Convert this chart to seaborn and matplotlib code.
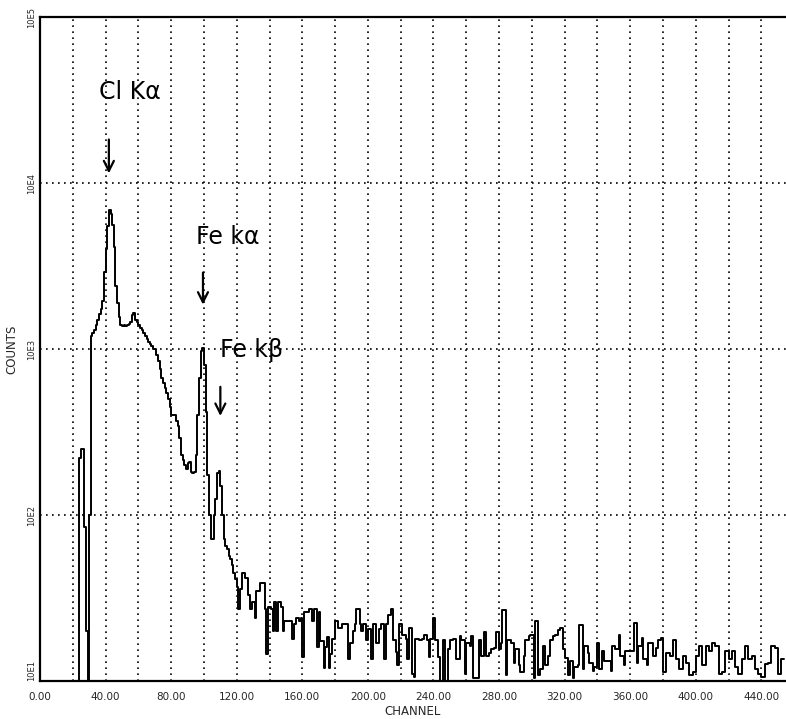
import numpy as np
import pandas as pd
import matplotlib
matplotlib.use("Agg")
import matplotlib.pyplot as plt
import seaborn as sns
from matplotlib.ticker import MultipleLocator, NullLocator, FixedLocator

# counts per channel (channels 0..454)
counts = (
    [10] * 24
    + [220, 250, 250, 85, 20, 10, 100]
    + [1200, 1250, 1300, 1400, 1500, 1620, 1750, 1950, 2900, 4000,
       5500, 6900, 6500, 5600, 4100, 2400, 1900, 1550, 1400, 1380,
       1400, 1380, 1400, 1420, 1450, 1600, 1650, 1500, 1450, 1400]
    + [1340, 1300, 1250, 1200, 1150, 1100, 1070, 1040, 1000, 1000,
       920, 850, 760, 665, 620, 580, 540, 500, 450, 400,
       400, 400, 370, 345, 290, 230, 215, 200, 190, 205,
       210, 182, 180, 182, 230, 400, 665, 970, 1010, 800,
       420, 174, 100, 72, 72, 100, 125, 180, 185, 150,
       100, 72, 65, 62, 57, 54, 50, 45, 41, 37,
       27]
    + [36, 45, 45, 42, 42, 33, 27, 30, 30, 24,
       35, 35, 39, 39, 39, 27, 14.5, 28, 28, 27,
       20, 30, 20, 30, 30, 28, 20, 23, 23, 23,
       23, 23, 18, 22, 24, 24, 23, 24, 14, 26,
       26, 26, 27, 27, 23, 27, 27, 16, 26, 17.5,
       17.5, 12, 16, 18.5, 12, 14.5, 18, 18, 23, 23,
       21, 21, 22, 22]
    + [22, 22, 13.5, 17, 17, 20, 22, 27, 27, 22,
       20, 22, 22, 17.7, 20.5, 20.5, 13.5, 22, 22, 17,
       17, 20.5, 22, 22, 13.5, 22, 25, 25, 27, 17.7,
       17.7, 15, 12.5, 22, 22, 19, 19, 18, 13.5, 21,
       21, 11, 10.5, 18, 18, 17.7, 17.7, 18, 19, 19,
       17.7, 14, 18, 18, 24, 17.7, 17.7, 14, 10, 10,
       17.7, 10, 10, 15.5, 17.7, 17.7, 18, 18]
    + [13.5, 13.5, 18.7, 17.7, 17.7, 11, 16.9, 16.9, 16.2, 18.7,
       10.4, 10.4, 10.4, 10.4, 17.7, 14.1, 14.1, 19.7, 14.1, 14.1,
       14.8, 15.5, 15.5, 15.8, 19.7, 19.7, 15.5, 16.9, 26.6, 26.6,
       10.8, 17.7, 17.7, 16.9, 16.9, 12.9, 15.5, 15.5, 12.4, 11.3,
       11.3, 14.1, 17.7, 17.7, 18.7, 19, 19, 10.4, 22.9, 22.9,
       10.8, 11.8, 11.8, 16.2, 12.4, 12.4, 14.1, 17.7, 17.7, 18.7]
    + [19, 19, 20.4, 20.8, 20.8, 15.5, 13.8, 13.8, 10.8, 13.2,
       13.2, 10.4, 12.1, 12.1, 12.4, 21.8, 21.8, 11.8, 16.2, 16.2,
       14.8, 12.9, 12.9, 11.5, 12.1, 12.1, 16.9, 11.8, 11.8, 15.2,
       13.2, 13.2, 13.2, 13.2, 11.5, 16.2, 16.2, 15.5, 15.5, 19,
       14.1, 14.1, 12.4, 15.2, 15.2, 15.2, 15.2, 15.2, 22.4, 22.4,
       12.9, 16.2, 16.2, 18.2, 13.5, 13.5, 12.4, 16.9, 16.9, 16.9,
       14.1, 14.1, 15.8, 17.7, 17.7, 18.2, 11.3, 11.3, 14.8, 14.8]
    + [14.1, 14.1, 17.7, 17.7, 13.5, 13.5, 11.8, 11.8, 14.1, 14.1,
       12.9, 12.9, 10.8, 10.8, 11.3, 11.3, 14.1, 14.1, 16.2, 16.2,
       12.4, 12.4, 16.2, 16.2, 15.1, 15.1, 16.9, 16.9, 16.2, 16.2,
       11, 11, 11.3, 11.3, 15.1, 15.1, 13.5, 13.5, 15.1, 15.1,
       12.1, 12.1, 11, 11, 13.5, 13.5, 16.2, 16.2, 13.5, 13.5,
       14.1, 14.1, 11.8, 11.8, 11, 11, 10.6, 10.6, 12.6, 12.6,
       12.9, 12.9, 16.2, 16.2, 15.8, 15.8, 11, 11, 13.5, 13.5,
       13.5]
)
channels = np.arange(len(counts))

x_ticks = [0, 40, 80, 120, 160, 200, 240, 280, 320, 360, 400, 440]
y_ticks = [10, 100, 1000, 10000, 100000]
y_labels = ["10E1", "10E2", "10E3", "10E4", "10E5"]

peak_labels = ["Cl Kα", "Fe kα", "Fe kβ"]
peak_text_xy = [(55, 35500), (114.6, 4700), (129, 980)]
peak_arrow_x = [42, 99.4, 110]
peak_arrow_y = [(19000, 11000), (3000, 1780), (615, 380)]

df = pd.DataFrame({"channel": channels, "counts": counts})

sns.set_style("white")
fig = plt.figure(figsize=(7.86, 7.19), dpi=100)
ax = fig.add_axes([40 / 786, 38 / 719, 746 / 786, 664 / 719])

sns.lineplot(data=df, x="channel", y="counts", estimator=None,
             drawstyle="steps-post", color="black", linewidth=1.4, ax=ax)

ax.set_yscale("log")
ax.set_xlim(0, 455)
ax.set_ylim(10, 1e5)

ax.xaxis.set_major_locator(FixedLocator(x_ticks))
ax.xaxis.set_minor_locator(MultipleLocator(20))
ax.set_xticklabels([f"{v:.2f}" for v in x_ticks], fontsize=7.5)
ax.yaxis.set_major_locator(FixedLocator(y_ticks))
ax.yaxis.set_minor_locator(NullLocator())
ax.set_yticklabels(y_labels, rotation=90, va="center", fontsize=6)
ax.tick_params(axis="x", which="both", direction="in", length=5, width=1, pad=8)
ax.tick_params(axis="y", which="both", direction="in", length=0, pad=3)
# keep the bottom y label clear of the first x label
ax.get_yticklabels()[0].set_va("bottom")

dot = (0, (1, 2.6))
ax.grid(True, axis="x", which="both", color="black", linestyle=dot, linewidth=1.2)
ax.grid(True, axis="y", which="major", color="black", linestyle=dot, linewidth=1.2)

for s in ["left", "bottom", "top"]:
    ax.spines[s].set_visible(True)
    ax.spines[s].set_color("black")
    ax.spines[s].set_linewidth(1.6)
ax.spines["right"].set_visible(False)

ax.set_xlabel("CHANNEL", fontsize=8.5, labelpad=2)
ax.set_ylabel("COUNTS", fontsize=8.5, labelpad=6)

for lab, (tx, ty), axx, (y0, y1) in zip(peak_labels, peak_text_xy, peak_arrow_x, peak_arrow_y):
    ax.text(tx, ty, lab, fontsize=17, ha="center", va="center", color="black")
    ax.annotate("", xy=(axx, y1), xytext=(axx, y0),
                arrowprops=dict(arrowstyle="->", color="black", lw=1.6,
                                mutation_scale=18))

fig.savefig("out.png", dpi=100)
